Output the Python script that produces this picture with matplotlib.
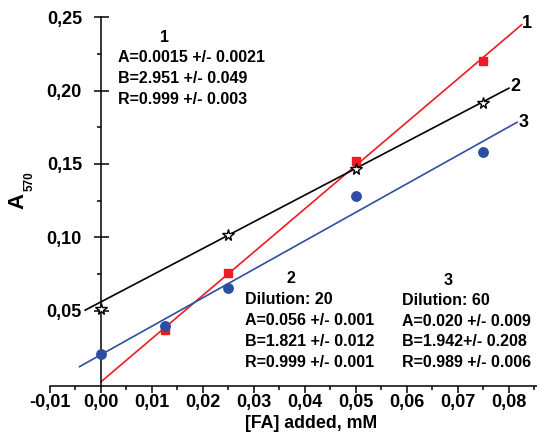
#!/usr/bin/env python3
"""A570 versus added [FA] for three dilutions, with linear fits."""

import matplotlib.pyplot as plt
from matplotlib.ticker import FuncFormatter, FixedLocator

plt.rcParams["font.family"] = ["Liberation Sans", "DejaVu Sans"]
plt.rcParams["font.weight"] = "bold"

W, H = 537, 434  # output size in pixels

# Measured points (x = [FA] added, mM; y = A570)
x1 = [0.0125, 0.025, 0.050, 0.075]
y1 = [0.037, 0.0755, 0.152, 0.220]
x2 = [0.000, 0.025, 0.050, 0.075]
y2 = [0.051, 0.1016, 0.1463, 0.1918]
x3 = [0.000, 0.0125, 0.025, 0.050, 0.075]
y3 = [0.0204, 0.0397, 0.0657, 0.128, 0.1584]

# Fit parameters (y = A + B*x) from the annotations, and drawn x-extent
fit1 = (0.0015, 2.951)
fit2 = (0.056, 1.821)
fit3 = (0.020, 1.942)
span1 = (0.0, 0.0825)
span2 = (-0.0031, 0.0800)
span3 = (-0.0042, 0.0816)

text1 = ["A=0.0015 +/- 0.0021", "B=2.951 +/- 0.049", "R=0.999 +/- 0.003"]
text2 = ["Dilution: 20", "A=0.056 +/- 0.001", "B=1.821 +/- 0.012", "R=0.999 +/- 0.001"]
text3 = ["Dilution: 60", "A=0.020 +/- 0.009", "B=1.942+/- 0.208", "R=0.989 +/- 0.006"]

RED = "#ed1c24"
BLUE = "#2e4ea1"


def fit_line(ax, fit, span, color):
    a, b = fit
    xs = list(span)
    ax.plot(xs, [a + b * x for x in xs], color=color, linewidth=1.2, zorder=2)


def comma(v, _pos):
    return f"{v:.2f}".replace(".", ",")


def text_block(ax, head_xy, lines_x, lines_y, head, lines):
    ax.text(*head_xy, head, ha="center", va="center", fontsize=11.5)
    for y, s in zip(lines_y, lines):
        ax.text(lines_x, y, s, ha="left", va="center", fontsize=11.5)


def main():
    fig = plt.figure(figsize=(W / 100, H / 100), dpi=100)
    ax = fig.add_axes([50 / W, 48 / H, 487 / W, (386 - 17.3) / H])
    ax.set_xlim(-0.01, 0.0855)
    ax.set_ylim(-0.00136, 0.25)

    fit_line(ax, fit1, span1, RED)
    fit_line(ax, fit2, span2, "black")
    fit_line(ax, fit3, span3, BLUE)

    ax.plot(x1, y1, linestyle="none", marker="s", ms=6.3, color=RED, zorder=3)
    ax.plot(x2, y2, linestyle="none", marker="*", ms=8.5, mfc="white",
            mec="black", mew=1.0, zorder=3)
    ax.plot(x3, y3, linestyle="none", marker="o", ms=6.8, color=BLUE, zorder=3)

    # line end labels
    ax.text(0.0836, 0.2455, "1", ha="center", va="center", fontsize=13)
    ax.text(0.0812, 0.2025, "2", ha="center", va="center", fontsize=13)
    ax.text(0.0828, 0.1780, "3", ha="center", va="center", fontsize=13)

    text_block(ax, (0.01255, 0.2365), 0.00333, [0.2229, 0.2086, 0.1943], "1", text1)
    text_block(ax, (0.0372, 0.0716), 0.0282, [0.0573, 0.0433, 0.0293, 0.0150], "2", text2)
    text_block(ax, (0.0680, 0.0709), 0.0590, [0.0566, 0.0429, 0.0293, 0.0150], "3", text3)

    # axes styling
    for side in ("top", "right"):
        ax.spines[side].set_visible(False)
    ax.spines["left"].set_position(("data", 0.0))
    ax.spines["left"].set_bounds(-0.00136, 0.25)
    for side in ("left", "bottom"):
        ax.spines[side].set_linewidth(1.1)

    ax.xaxis.set_major_locator(FixedLocator([i / 100 for i in range(-1, 9)]))
    ax.xaxis.set_minor_locator(FixedLocator([i / 100 + 0.005 for i in range(-1, 9)]))
    ax.yaxis.set_major_locator(FixedLocator([0.05, 0.10, 0.15, 0.20, 0.25]))
    ax.yaxis.set_minor_locator(FixedLocator([0.075, 0.125, 0.175, 0.225]))
    ax.xaxis.set_major_formatter(FuncFormatter(comma))
    ax.yaxis.set_major_formatter(FuncFormatter(comma))

    ax.tick_params(axis="x", which="major", direction="out", length=5, width=1.1,
                   pad=1, labelsize=13)
    ax.tick_params(axis="x", which="minor", direction="out", length=3, width=1.1)
    ax.tick_params(axis="y", which="major", direction="inout", length=10.8, width=1.1,
                   pad=8.3, labelsize=13)
    ax.tick_params(axis="y", which="minor", direction="out", length=3, width=1.1)

    # axis titles
    fig.text(311 / W, 1 - 424 / H, "[FA] added, mM", ha="center", va="center",
             fontsize=12.8)
    fig.text(17.5 / W, 1 - 201 / H, "A", ha="center", va="center", rotation=90,
             fontsize=16)
    fig.text(29.5 / W, 1 - 181 / H, "570", ha="center", va="center", rotation=90,
             fontsize=8.5)

    fig.savefig("out.png", dpi=100)


if __name__ == "__main__":
    main()
